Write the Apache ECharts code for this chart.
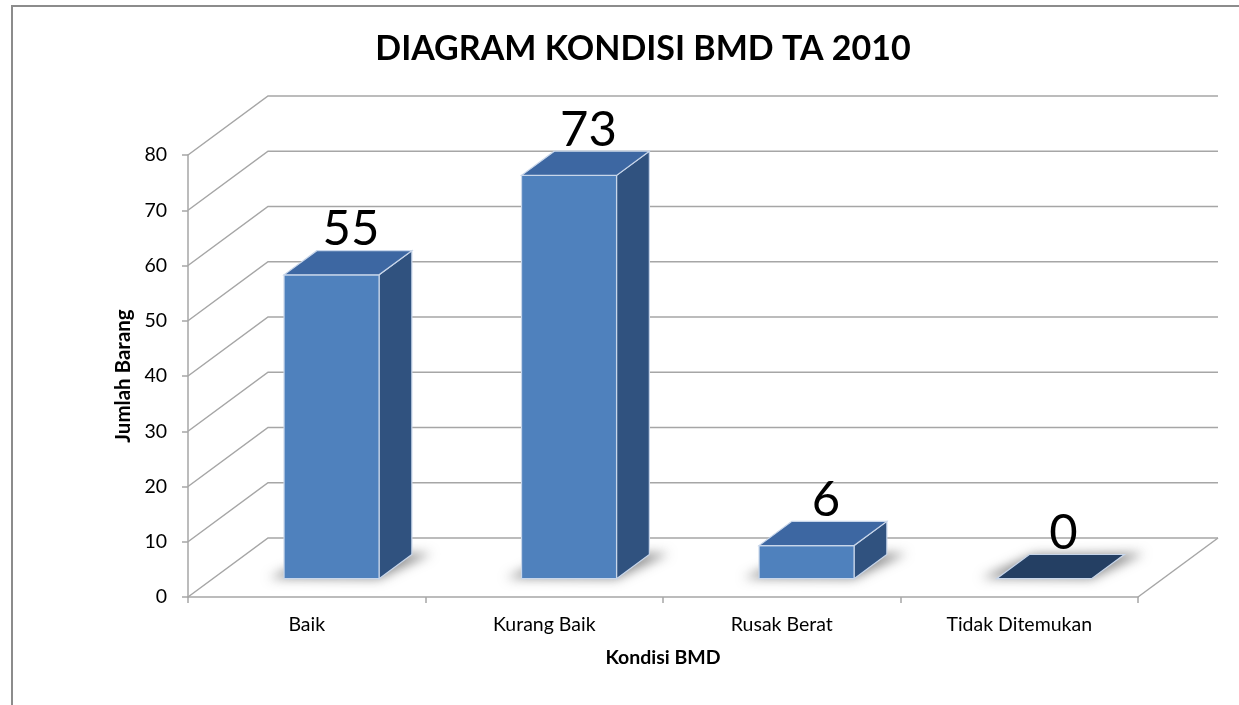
<!DOCTYPE html>
<html><head><meta charset="utf-8">
<script src="https://cdn.jsdelivr.net/npm/echarts@6/dist/echarts.min.js"></script>
<style>html,body{margin:0;padding:0;background:#fff}#c{width:1239px;height:705px}</style>
</head><body><div id="c"></div>
<script>
const titleText = 'DIAGRAM KONDISI BMD TA 2010';
const categories = ['Baik', 'Kurang Baik', 'Rusak Berat', 'Tidak Ditemukan'];
const values = [55, 73, 6, 0];
const yTicks = [0, 10, 20, 30, 40, 50, 60, 70, 80];
const xName = 'Kondisi BMD';
const yName = 'Jumlah Barang';

const DX = 80, DY = -59;          // oblique depth of the floor / walls
const D0 = 0.31, D1 = 0.72;       // bar front / back depth fraction
const BW = 0.4;                   // bar width as fraction of band
const FONT = 'Lato, "Open Sans", sans-serif';
const GRID_C = '#A6A6A6';
const FRONT_C = '#4F81BD', TOP_C = '#3D67A2', SIDE_C = '#30527F', ZERO_C = '#243F63', EDGE_C = '#C8D6EA';
const OFF = 3000;

const chart = echarts.init(document.getElementById('c'), null, {renderer: 'canvas'});

function P(x, y, d) { return [x + d * DX, y + d * DY]; }

function gridItem(params, api) {
  const cs = params.coordSys;
  const v = api.value(1);
  const y = api.coord([0, v])[1];
  const x0 = cs.x, x1 = cs.x + cs.width;
  const children = [{
    type: 'polyline',
    shape: {points: [[x0, y], P(x0, y, 1), P(x1, y, 1)]},
    style: {stroke: GRID_C, lineWidth: 1.5, fill: null}
  }];
  if (v === 0) {
    const e = P(x1, y, 1);
    children.push({type: 'line', shape: {x1: x1, y1: y, x2: e[0], y2: e[1]}, style: {stroke: GRID_C, lineWidth: 1.5}});
  }
  return {type: 'group', children: children};
}

function barItem(params, api) {
  const i = api.value(0), v = api.value(1);
  const band = api.size([1, 0])[0];
  const c = api.coord([i, 0]);
  const base = c[1];
  const top = api.coord([i, v])[1];
  const xl = c[0] - BW * band / 2, xr = c[0] + BW * band / 2;
  const flat = (base - top) < 1;
  const st = (fill) => ({fill: fill, stroke: EDGE_C, lineWidth: 1.2});
  const children = [];
  // soft blurred shadow on floor (shape drawn off-screen, only its shadow shows)
  const sh = [P(xl - 16, base, D0 + 0.01), P(xr, base, D0), P(xr + 18, base, D1 + 0.02), P(xl + 4, base, D1)];
  children.push({
    type: 'polygon',
    shape: {points: sh.map(p => [p[0] - OFF, p[1]])},
    style: {fill: '#000', shadowBlur: 11, shadowColor: 'rgba(70,70,70,0.6)', shadowOffsetX: OFF, shadowOffsetY: 0}
  });
  if (!flat) {
    children.push({type: 'polygon', shape: {points: [P(xr, top, D0), P(xr, top, D1), P(xr, base, D1), P(xr, base, D0)]}, style: st(SIDE_C)});
    children.push({type: 'polygon', shape: {points: [P(xl, top, D0), P(xr, top, D0), P(xr, base, D0), P(xl, base, D0)]}, style: st(FRONT_C)});
  }
  children.push({type: 'polygon', shape: {points: [P(xl, top, D0), P(xr, top, D0), P(xr, top, D1), P(xl, top, D1)]}, style: st(flat ? ZERO_C : TOP_C)});
  const lx = (P(xl, top, D0)[0] + P(xr, top, D1)[0]) / 2 + 3;
  const ly = P(xl, top, D1)[1] - 21;
  children.push({
    type: 'text', x: lx, y: ly,
    style: {text: String(v), fontFamily: FONT, fontSize: 49, fill: '#000', align: 'center', verticalAlign: 'middle'}
  });
  return {type: 'group', children: children};
}

const option = {
  animation: false,
  backgroundColor: '#fff',
  title: {
    text: titleText, left: 638, top: 27, textAlign: 'center',
    textStyle: {fontFamily: FONT, fontWeight: 'bold', fontSize: 34, color: '#000'}
  },
  graphic: [{
    type: 'rect', z: -10, silent: true,
    shape: {x: 12, y: 6, width: 1400, height: 900},
    style: {fill: 'none', stroke: '#8C8C8C', lineWidth: 2}
  }],
  grid: {left: 188, right: 101, top: 155, bottom: 108, containLabel: false},
  xAxis: {
    type: 'category', data: categories, boundaryGap: true,
    name: xName, nameLocation: 'middle', nameGap: 51,
    nameTextStyle: {fontFamily: FONT, fontWeight: 'bold', fontSize: 19.5, color: '#000'},
    axisLine: {show: true, lineStyle: {color: GRID_C, width: 1.5}},
    axisTick: {show: true, length: 6, lineStyle: {color: GRID_C, width: 1.5}},
    axisLabel: {margin: 18, fontFamily: FONT, fontSize: 19.5, color: '#000'},
    splitLine: {show: false}
  },
  yAxis: {
    type: 'value', min: 0, max: 80, interval: 10,
    name: yName, nameLocation: 'middle', nameGap: 49, nameRotate: 90,
    nameTextStyle: {fontFamily: FONT, fontWeight: 'bold', fontSize: 20.5, color: '#000'},
    axisLine: {show: true, lineStyle: {color: GRID_C, width: 1.5}},
    axisTick: {show: true, length: 6, lineStyle: {color: GRID_C, width: 1.5}},
    axisLabel: {margin: 21, padding: [8, 0, 0, 0], fontFamily: FONT, fontSize: 19.5, color: '#000'},
    splitLine: {show: false}
  },
  series: [
    {
      type: 'custom', name: 'grid', z: 1, clip: false, silent: true,
      renderItem: gridItem,
      encode: {x: 0, y: 1},
      data: yTicks.map(v => [0, v])
    },
    {
      type: 'custom', name: 'Jumlah Barang', z: 3, clip: false,
      renderItem: barItem,
      encode: {x: 0, y: 1},
      data: values.map((v, i) => [i, v])
    }
  ]
};
chart.setOption(option);
</script>
</body></html>
